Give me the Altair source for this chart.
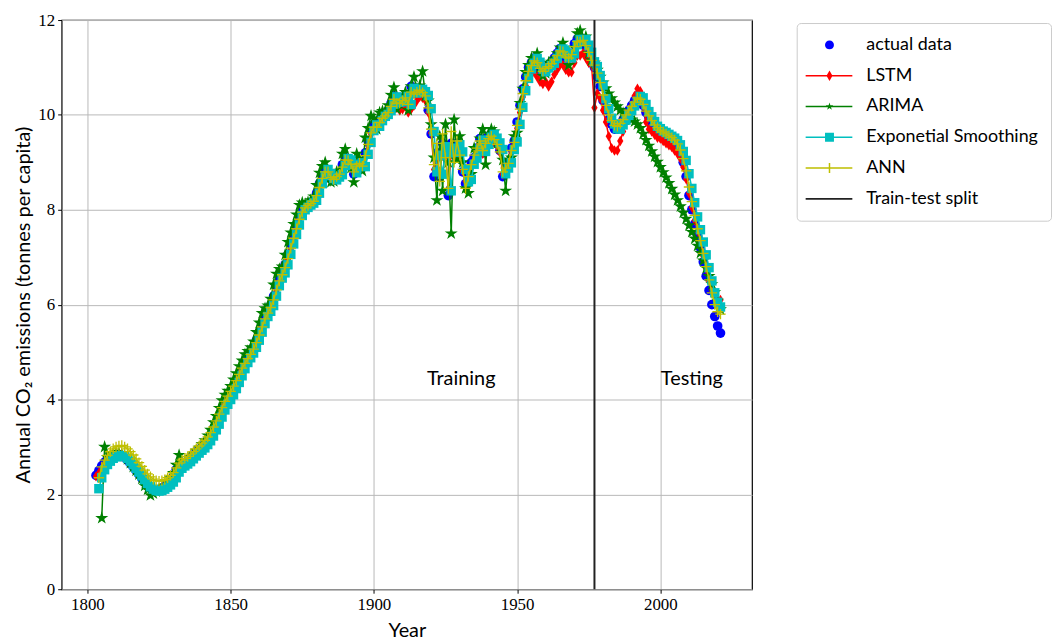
import altair as alt
import pandas as pd

# ---------------- data ----------------
actual_start = 1803
actual = [2.40, 2.50, 2.60, 2.68, 2.74, 2.79, 2.82,
          2.84, 2.84, 2.82, 2.78, 2.72, 2.65, 2.58, 2.50, 2.42, 2.34,
          2.26, 2.19, 2.13, 2.10, 2.09, 2.10, 2.13, 2.17, 2.22, 2.28,
          2.38, 2.52, 2.58, 2.62, 2.66, 2.71, 2.77, 2.83, 2.89, 2.95,
          3.00, 3.07, 3.15, 3.25, 3.38, 3.50, 3.65, 3.80, 3.92, 4.02,
          4.12, 4.25, 4.38, 4.52, 4.65, 4.78, 4.88, 4.98, 5.10, 5.25,
          5.42, 5.60, 5.75, 5.86, 5.98, 6.18, 6.40, 6.56, 6.67, 6.84,
          7.06, 7.28, 7.48, 7.68, 7.88, 8.00, 8.05, 8.10, 8.14, 8.20,
          8.35, 8.55, 8.72, 8.85, 8.75, 8.65, 8.62, 8.70, 8.75, 8.95,
          9.10, 9.05, 8.95, 8.75, 8.95, 9.00, 8.90, 9.20, 9.45, 9.70,
          9.80, 9.75, 9.90, 9.98, 10.02, 10.10, 10.25, 10.40, 10.25, 10.28,
          10.32, 10.40, 10.20, 10.60, 10.45, 10.50, 10.55, 10.48, 10.40, 10.10,
          9.60, 8.70, 9.20, 8.70, 9.40, 9.20, 8.30, 9.40, 9.20, 9.40,
          9.20, 8.80, 8.55, 8.65, 9.00, 9.10, 9.30, 9.50, 9.20, 9.40,
          9.55, 9.60, 9.50, 9.40, 9.25, 8.70, 8.90, 9.00, 9.30, 9.45,
          9.85, 10.20, 10.55, 10.80, 11.00, 11.10, 11.20, 11.10, 10.95, 10.90,
          11.00, 11.05, 11.10, 11.20, 11.30, 11.40, 11.35, 11.20, 11.20, 11.30,
          11.50, 11.60, 11.55, 11.60, 11.45, 11.30, 11.10, 11.00, 10.80, 10.60,
          10.30, 10.10, 9.90, 9.80, 9.70, 9.70, 9.80, 9.90, 10.00, 10.10,
          10.20, 10.30, 10.40, 10.35, 10.20, 10.05, 9.95, 9.85, 9.75, 9.70,
          9.65, 9.62, 9.58, 9.54, 9.50, 9.45, 9.35, 9.20, 9.00, 8.70,
          8.30, 8.00, 7.70, 7.45, 7.20, 6.90, 6.60, 6.30, 6.00, 5.75, 5.55, 5.40]

lstm_start = 1803
lstm = [2.38, 2.45, 2.55, 2.64, 2.71, 2.76, 2.80,
        2.82, 2.83, 2.82, 2.79, 2.74, 2.67, 2.60, 2.52, 2.44, 2.36,
        2.28, 2.21, 2.15, 2.11, 2.10, 2.10, 2.12, 2.16, 2.21, 2.27,
        2.35, 2.48, 2.56, 2.61, 2.65, 2.70, 2.75, 2.81, 2.87, 2.93,
        2.98, 3.04, 3.12, 3.21, 3.33, 3.46, 3.60, 3.75, 3.88, 3.98,
        4.08, 4.20, 4.33, 4.46, 4.60, 4.72, 4.83, 4.93, 5.04, 5.18,
        5.34, 5.51, 5.68, 5.81, 5.92, 6.08, 6.29, 6.48, 6.62, 6.76,
        6.95, 7.17, 7.38, 7.58, 7.78, 7.94, 8.03, 8.08, 8.12, 8.17,
        8.28, 8.45, 8.64, 8.79, 8.80, 8.66, 8.62, 8.67, 8.73, 8.88,
        9.03, 9.04, 8.97, 8.80, 8.90, 8.97, 8.91, 9.10, 9.35, 9.60,
        9.72, 9.70, 9.80, 9.88, 9.92, 9.98, 10.10, 10.25, 10.15, 10.10,
        10.12, 10.18, 10.05, 10.12, 10.20, 10.30, 10.38, 10.36, 10.30, 10.05,
        9.62, 8.85, 9.05, 8.78, 9.25, 9.15, 8.45, 9.20, 9.12, 9.28,
        9.15, 8.82, 8.60, 8.65, 8.92, 9.02, 9.20, 9.38, 9.18, 9.30,
        9.45, 9.50, 9.42, 9.35, 9.20, 8.75, 8.85, 8.95, 9.20, 9.38,
        9.72, 10.05, 10.38, 10.62, 10.80, 10.85, 10.90, 10.80, 10.70, 10.65,
        10.70, 10.60, 10.70, 10.85, 10.95, 11.05, 11.05, 10.95, 10.90, 10.90,
        11.10, 11.25, 11.25, 11.30, 11.20, 11.10, 11.05, 10.15, 10.45, 10.35,
        10.10, 9.85, 9.55, 9.30, 9.25, 9.25, 9.45, 9.65, 9.85, 10.00,
        10.20, 10.40, 10.55, 10.50, 10.20, 9.85, 9.70, 9.65, 9.58, 9.52,
        9.50, 9.45, 9.40, 9.36, 9.32, 9.25, 9.18, 9.08, 8.90, 8.65,
        8.35, 8.05, 7.78, 7.55, 7.30, 7.02, 6.75, 6.50, 6.30, 6.20, 6.12, 6.10]

arima_start = 1805
arima = [1.50, 3.00, 2.78, 2.82, 2.86,
         2.88, 2.87, 2.84, 2.80, 2.74, 2.66, 2.58, 2.50, 2.42, 2.33,
         2.18, 2.10, 1.98, 2.02, 2.06, 2.10, 2.12, 2.18, 2.25, 2.34,
         2.45, 2.62, 2.83, 2.68, 2.68, 2.71, 2.78, 2.84, 2.92, 2.98,
         3.06, 3.14, 3.24, 3.36, 3.52, 3.65, 3.82, 3.98, 4.10, 4.18,
         4.28, 4.42, 4.55, 4.70, 4.82, 4.95, 5.02, 5.10, 5.22, 5.42,
         5.62, 5.82, 5.92, 5.98, 6.12, 6.42, 6.65, 6.75, 6.80, 7.05,
         7.32, 7.52, 7.70, 7.90, 8.10, 8.15, 8.12, 8.16, 8.20, 8.28,
         8.52, 8.78, 8.92, 9.00, 8.68, 8.58, 8.60, 8.80, 8.82, 9.18,
         9.28, 9.02, 8.88, 8.58, 9.18, 9.08, 8.82, 9.52, 9.72, 9.98,
         9.92, 9.70, 10.05, 10.08, 10.08, 10.20, 10.42, 10.58, 10.12, 10.32,
         10.38, 10.48, 10.10, 10.60, 10.80, 10.55, 10.62, 10.92, 10.40, 10.30,
         9.80, 9.10, 8.20, 9.55, 8.40, 9.80, 9.00, 7.50, 9.90, 9.05,
         9.55, 9.00, 8.45, 8.35, 8.75, 9.30, 9.20, 9.50, 9.70, 8.95,
         9.60, 9.70, 9.65, 9.40, 9.30, 9.05, 8.40, 9.05, 9.10, 9.55,
         9.62, 10.25, 10.55, 10.90, 11.05, 11.20, 11.20, 11.30, 11.00, 10.82,
         10.88, 11.10, 11.12, 11.18, 11.30, 11.42, 11.52, 11.30, 11.05, 11.22,
         11.42, 11.72, 11.78, 11.50, 11.65, 11.30, 11.15, 11.10, 10.95, 10.80,
         10.68, 10.56, 10.45, 10.35, 10.26, 10.18, 10.10, 10.04, 9.98, 9.94,
         9.90, 9.86, 9.80, 9.72, 9.60, 9.47, 9.35, 9.23, 9.12, 9.01,
         8.90, 8.79, 8.68, 8.56, 8.44, 8.32, 8.20, 8.07, 7.94, 7.81,
         7.67, 7.53, 7.39, 7.24, 7.09, 6.93, 6.77, 6.60, 6.43, 6.26, 6.08, 5.90]

expsm_start = 1804
expsm = [2.12, 2.35, 2.52, 2.63, 2.70, 2.76,
         2.79, 2.81, 2.82, 2.80, 2.76, 2.70, 2.63, 2.55, 2.47, 2.39,
         2.31, 2.23, 2.16, 2.11, 2.08, 2.07, 2.08, 2.11, 2.15, 2.20,
         2.26, 2.35, 2.47, 2.55, 2.60, 2.64, 2.69, 2.75, 2.81, 2.87,
         2.93, 2.98, 3.05, 3.13, 3.23, 3.36, 3.48, 3.63, 3.78, 3.90,
         4.00, 4.10, 4.23, 4.36, 4.50, 4.65, 4.78, 4.88, 4.98, 5.10,
         5.25, 5.42, 5.60, 5.75, 5.86, 5.98, 6.18, 6.40, 6.56, 6.67,
         6.84, 7.06, 7.28, 7.48, 7.68, 7.88, 8.00, 8.05, 8.10, 8.14,
         8.20, 8.35, 8.55, 8.72, 8.85, 8.76, 8.66, 8.63, 8.69, 8.74,
         8.93, 9.08, 9.05, 8.96, 8.78, 8.93, 8.99, 8.91, 9.17, 9.42,
         9.67, 9.79, 9.76, 9.88, 9.97, 10.01, 10.09, 10.23, 10.38, 10.27,
         10.28, 10.31, 10.39, 10.22, 10.56, 10.46, 10.50, 10.54, 10.49, 10.41,
         10.13, 9.65, 8.80, 9.15, 8.75, 9.33, 9.20, 8.40, 9.30, 9.21,
         9.37, 9.22, 8.85, 8.59, 8.64, 8.96, 9.09, 9.28, 9.47, 9.23,
         9.38, 9.53, 9.59, 9.51, 9.41, 9.27, 8.76, 8.88, 8.99, 9.27,
         9.43, 9.80, 10.16, 10.51, 10.77, 10.97, 11.09, 11.19, 11.11, 10.97,
         10.91, 10.99, 11.04, 11.09, 11.19, 11.29, 11.39, 11.36, 11.22, 11.20,
         11.29, 11.48, 11.59, 11.56, 11.59, 11.47, 11.32, 11.12, 11.02, 10.83,
         10.63, 10.34, 10.13, 9.93, 9.81, 9.71, 9.70, 9.79, 9.89, 9.99,
         10.09, 10.19, 10.29, 10.39, 10.36, 10.22, 10.07, 9.96, 9.86, 9.76,
         9.71, 9.66, 9.63, 9.59, 9.55, 9.51, 9.46, 9.37, 9.23, 9.04,
         8.76, 8.45, 8.15, 7.85, 7.58, 7.32, 7.05, 6.78, 6.50, 6.25, 6.05, 5.95]

ann_start = 1804
ann = [2.35, 2.58, 2.72, 2.82, 2.90, 2.96,
       3.00, 3.02, 3.03, 3.00, 2.96, 2.90, 2.83, 2.75, 2.67, 2.59,
       2.51, 2.43, 2.37, 2.32, 2.29, 2.28, 2.29, 2.31, 2.35, 2.40,
       2.46, 2.56, 2.66, 2.72, 2.76, 2.80, 2.85, 2.90, 2.96, 3.02,
       3.08, 3.14, 3.21, 3.30, 3.42, 3.55, 3.69, 3.83, 3.96, 4.07,
       4.17, 4.28, 4.40, 4.53, 4.66, 4.76, 4.86, 4.95, 5.06, 5.20,
       5.36, 5.53, 5.70, 5.82, 5.94, 6.10, 6.31, 6.50, 6.63, 6.78,
       6.97, 7.19, 7.40, 7.60, 7.80, 7.95, 8.04, 8.09, 8.13, 8.18,
       8.30, 8.47, 8.66, 8.80, 8.80, 8.68, 8.64, 8.70, 8.75, 8.90,
       9.05, 9.04, 8.96, 8.80, 8.92, 8.98, 8.92, 9.14, 9.38, 9.62,
       9.74, 9.74, 9.84, 9.93, 9.98, 10.05, 10.18, 10.33, 10.24, 10.25,
       10.30, 10.36, 10.22, 10.48, 10.44, 10.48, 10.52, 10.47, 10.40, 10.15,
       9.70, 8.95, 9.40, 8.60, 9.60, 9.10, 8.45, 9.65, 9.00, 9.45,
       9.15, 8.85, 8.45, 8.70, 8.95, 9.15, 9.30, 9.45, 9.25, 9.40,
       9.50, 9.55, 9.48, 9.38, 9.22, 8.80, 8.88, 8.98, 9.25, 9.42,
       9.78, 10.12, 10.45, 10.72, 10.92, 11.04, 11.14, 11.10, 10.98, 10.92,
       10.98, 11.02, 11.08, 11.16, 11.25, 11.35, 11.33, 11.22, 11.20, 11.27,
       11.44, 11.55, 11.54, 11.57, 11.46, 11.32, 11.15, 11.05, 10.88, 10.68,
       10.42, 10.20, 10.00, 9.88, 9.78, 9.76, 9.82, 9.90, 10.00, 10.10,
       10.18, 10.27, 10.36, 10.33, 10.22, 10.08, 9.98, 9.88, 9.79, 9.73,
       9.68, 9.64, 9.60, 9.56, 9.52, 9.47, 9.39, 9.26, 9.08, 8.82,
       8.48, 8.17, 7.88, 7.60, 7.35, 7.08, 6.80, 6.52, 6.25, 6.00, 5.85, 5.80]

split_year = [1977]
note_labels = ["Training", "Testing"]
note_years = [1930.5, 2011]
note_values = [4.44, 4.44]

legend_names = ["actual data", "LSTM", "ARIMA", "Exponetial Smoothing", "ANN", "Train-test split"]
legend_colors = ["#0000ff", "#ff0000", "#008000", "#00bfbf", "#bfbf00", "#222222"]

# ---------------- build table ----------------
rows = []
for name, start, vals in [("actual data", actual_start, actual), ("LSTM", lstm_start, lstm),
                          ("ARIMA", arima_start, arima), ("Exponetial Smoothing", expsm_start, expsm),
                          ("ANN", ann_start, ann)]:
    for i, v in enumerate(vals):
        rows.append({"year": start + i, "value": v, "series": name})
df = pd.DataFrame(rows)

SERIF = "Liberation Serif"
SANS = "Lato"

xenc = alt.X("year:Q",
             scale=alt.Scale(domain=[1791, 2032], nice=False, zero=False),
             axis=alt.Axis(values=[1800, 1850, 1900, 1950, 2000], title="Year", format="d"))
yenc = alt.Y("value:Q",
             scale=alt.Scale(domain=[0, 12], nice=False),
             axis=alt.Axis(values=[0, 2, 4, 6, 8, 10, 12],
                           title="Annual CO\u2082 emissions (tonnes per capita)"))

base = alt.Chart(df)

def sel(name):
    return base.transform_filter(alt.datum.series == name)

star = "M0,-1L0.223,-0.307L0.951,-0.309L0.361,0.117L0.588,0.809L0,0.38L-0.588,0.809L-0.361,0.117L-0.951,-0.309L-0.223,-0.307Z"
thin_diamond = "M0,-1L0.6,0L0,1L-0.6,0Z"
plus = "M-1,0L1,0M0,-1L0,1"

layers = []
layers.append(sel("actual data").mark_point(shape="circle", filled=True, size=95, color="#0000ff", opacity=1).encode(x=xenc, y=yenc))
layers.append(sel("LSTM").mark_line(color="#ff0000", strokeWidth=1.5).encode(x=xenc, y=yenc))
layers.append(sel("LSTM").mark_point(shape=thin_diamond, filled=True, size=110, color="#ff0000", opacity=1).encode(x=xenc, y=yenc))
layers.append(sel("ARIMA").mark_line(color="#008000", strokeWidth=1.5).encode(x=xenc, y=yenc))
layers.append(sel("ARIMA").mark_point(shape=star, filled=True, size=190, color="#008000", opacity=1).encode(x=xenc, y=yenc))
layers.append(sel("Exponetial Smoothing").mark_line(color="#00bfbf", strokeWidth=1.5).encode(x=xenc, y=yenc))
layers.append(sel("Exponetial Smoothing").mark_point(shape="square", filled=True, size=90, color="#00bfbf", opacity=1).encode(x=xenc, y=yenc))
layers.append(sel("ANN").mark_line(color="#bfbf00", strokeWidth=1.5).encode(x=xenc, y=yenc))
layers.append(sel("ANN").mark_point(shape=plus, filled=False, size=110, color="#bfbf00", strokeWidth=1.3, opacity=1).encode(x=xenc, y=yenc))

rule = alt.Chart(pd.DataFrame({"year": split_year})).mark_rule(color="#222222", strokeWidth=2).encode(x="year:Q")
layers.append(rule)

notes = alt.Chart(pd.DataFrame({"label": note_labels, "year": note_years, "value": note_values})).mark_text(
    font=SANS, fontSize=20, color="black").encode(x="year:Q", y="value:Q", text="label:N")
layers.append(notes)

# legend-only layer (points with empty coordinates are not drawn)
leg_paths = [
    "M3.1,0A0.9,0.9,0,1,1,1.3,0A0.9,0.9,0,1,1,3.1,0Z",
    "M-2.6,-0.16H6.8V0.16H-2.6ZM2.2,-1.05L2.8,0L2.2,1.05L1.6,0Z",
    "M-2.6,-0.16H6.8V0.16H-2.6ZM2.2,-0.8L2.378,-0.246L2.961,-0.247L2.489,0.094L2.67,0.647L2.2,0.304L1.73,0.647L1.911,0.094L1.439,-0.247L2.022,-0.246Z",
    "M-2.6,-0.16H6.8V0.16H-2.6ZM1.3,-0.9H3.1V0.9H1.3Z",
    "M-2.6,-0.16H6.8V0.16H-2.6ZM2.05,-1H2.35V1H2.05Z",
    "M-2.6,-0.18H6.8V0.18H-2.6Z",
]
leg_df = pd.DataFrame({"series": legend_names, "year": [None] * 6, "value": [None] * 6})
leg = alt.Legend(title=None, orient="none", legendX=740, legendY=3, symbolSize=100, labelOffset=39,
                 rowPadding=13, padding=13, strokeColor="#cccccc", cornerRadius=4,
                 fillColor="white", labelFont=SANS, labelFontSize=18, labelColor="black",
                 symbolStrokeWidth=0, symbolOpacity=1, labelLimit=400)
legend_layer = alt.Chart(leg_df).mark_point(filled=True, opacity=1, strokeWidth=0).encode(
    x="year:Q", y="value:Q",
    color=alt.Color("series:N", scale=alt.Scale(domain=legend_names, range=legend_colors), legend=leg),
    shape=alt.Shape("series:N", scale=alt.Scale(domain=legend_names, range=leg_paths), legend=leg),
)
layers.append(legend_layer)

chart = alt.layer(*layers).properties(
    width=695, height=573,
    padding={"left": 6, "top": 1, "right": 0, "bottom": 0},
).configure_view(stroke="black", strokeWidth=1.2).configure_axis(
    domain=False, grid=True, gridColor="#b8b8b8", gridWidth=1,
    ticks=True, tickColor="black", tickSize=4, tickWidth=1,
    labelFont=SERIF, labelFontSize=17, labelColor="black", labelPadding=3,
    titleFont=SANS, titleFontSize=20, titleFontWeight="normal", titleColor="black",
).configure_axisX(titlePadding=9).configure_axisY(titlePadding=4)

chart.save("out.html", embed_options={"renderer": "svg", "actions": False})
